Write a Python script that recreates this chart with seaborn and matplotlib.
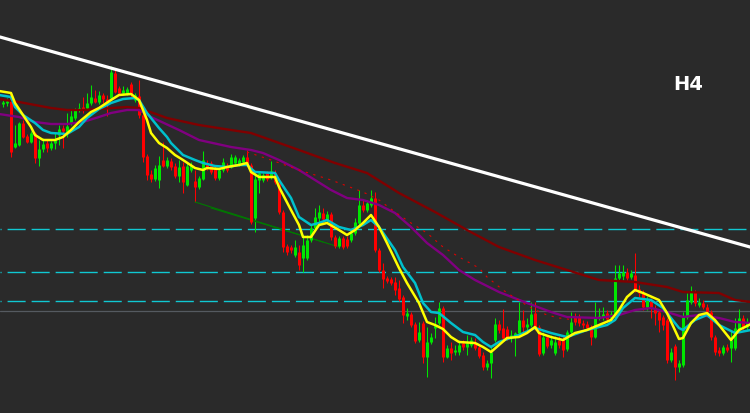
import numpy as np
import pandas as pd
import matplotlib
matplotlib.use("Agg")
import matplotlib.pyplot as plt
import seaborn as sns

# ---------------- data (price in chart points) ----------------
opens = [396, 397, 406, 353, 355, 377, 364, 358, 367, 342, 351, 357, 352, 357, 365, 372, 368, 377, 382, 391,
         393, 392, 397, 402, 398, 405, 401, 402, 427, 412, 407, 407, 416, 400, 404, 385, 344, 326, 321, 320,
         340, 334, 339, 334, 324, 334, 315, 330, 319, 313, 321, 337, 337, 332, 322, 330, 334, 333, 337, 336,
         338, 343, 335, 282, 320, 320, 327, 323, 327, 318, 288, 254, 253, 245, 248, 242, 242, 260, 272, 282,
         287, 280, 286, 263, 254, 262, 261, 260, 267, 277, 295, 290, 295, 302, 250, 230, 222, 221, 218, 212,
         203, 184, 186, 176, 160, 177, 143, 158, 172, 177, 192, 143, 152, 148, 148, 157, 153, 155, 157, 153,
         145, 133, 137, 160, 176, 172, 171, 162, 163, 167, 180, 173, 175, 187, 173, 147, 163, 155, 147, 160,
         161, 151, 168, 184, 183, 177, 176, 171, 163, 182, 183, 187, 182, 183, 222, 224, 228, 223, 225, 211,
         207, 193, 199, 192, 188, 183, 180, 140, 154, 133, 135, 183, 198, 208, 195, 197, 193, 188, 163, 150,
         147, 153, 152, 152, 170, 182, 173]
highs = [400, 402, 407, 375, 378, 380, 366, 369, 368, 360, 362, 360, 359, 367, 375, 375, 387, 390, 392, 397,
         403, 407, 415, 410, 409, 407, 405, 434, 430, 414, 414, 413, 418, 407, 420, 387, 346, 330, 335, 344,
         358, 343, 342, 337, 340, 338, 337, 338, 330, 324, 349, 340, 339, 335, 332, 342, 337, 346, 345, 342,
         345, 350, 337, 328, 329, 327, 329, 339, 330, 320, 290, 256, 255, 260, 255, 265, 265, 275, 292, 295,
         292, 289, 288, 265, 264, 264, 264, 270, 282, 310, 300, 300, 310, 308, 252, 237, 224, 223, 223, 220,
         205, 192, 188, 178, 178, 179, 173, 167, 183, 198, 194, 155, 158, 155, 160, 160, 165, 163, 162, 155,
         148, 140, 155, 182, 180, 191, 174, 170, 168, 198, 190, 182, 198, 198, 175, 168, 165, 165, 164, 164,
         165, 170, 188, 187, 186, 180, 179, 175, 198, 192, 193, 190, 189, 235, 235, 235, 232, 230, 247, 215,
         210, 204, 202, 195, 190, 185, 182, 152, 156, 140, 188, 207, 214, 210, 202, 200, 196, 190, 165, 153,
         155, 156, 170, 182, 191, 185, 182]
lows = [393, 394, 343, 352, 354, 362, 357, 357, 337, 334, 348, 348, 350, 351, 355, 352, 363, 375, 380, 388,
        387, 391, 395, 397, 396, 397, 384, 401, 407, 405, 405, 405, 403, 398, 382, 338, 320, 318, 319, 312,
        333, 332, 330, 322, 318, 307, 314, 328, 298, 311, 320, 330, 326, 320, 320, 328, 328, 332, 335, 334,
        337, 335, 276, 268, 307, 318, 319, 321, 316, 286, 248, 245, 247, 243, 230, 228, 240, 258, 270, 275,
        278, 278, 260, 252, 252, 251, 252, 258, 265, 275, 288, 288, 293, 248, 228, 212, 217, 215, 205, 199,
        177, 180, 173, 157, 158, 137, 123, 156, 162, 175, 138, 142, 140, 145, 145, 150, 145, 153, 150, 142,
        130, 130, 122, 158, 167, 160, 160, 158, 144, 165, 165, 170, 173, 170, 144, 145, 152, 152, 145, 152,
        143, 149, 166, 175, 174, 172, 170, 155, 162, 180, 180, 179, 180, 182, 219, 220, 220, 221, 208, 203,
        190, 190, 182, 175, 168, 170, 137, 138, 120, 128, 133, 181, 196, 194, 193, 191, 186, 160, 145, 144,
        145, 148, 138, 150, 168, 170, 170]
closes = [398, 399, 348, 357, 377, 363, 358, 367, 342, 351, 356, 352, 357, 360, 371, 369, 374, 384, 390, 392,
          390, 397, 403, 398, 405, 401, 397, 428, 408, 407, 410, 411, 406, 405, 385, 343, 325, 321, 332, 335,
          334, 340, 333, 324, 333, 318, 334, 335, 313, 322, 340, 333, 328, 322, 330, 338, 330, 343, 343, 340,
          343, 337, 278, 321, 327, 325, 321, 329, 318, 288, 253, 248, 250, 253, 235, 255, 260, 272, 283, 288,
          281, 286, 263, 254, 262, 253, 254, 267, 278, 295, 290, 297, 302, 250, 230, 221, 219, 217, 210, 201,
          185, 187, 175, 159, 168, 143, 158, 163, 175, 192, 143, 152, 147, 150, 155, 153, 157, 160, 152, 144,
          133, 137, 148, 176, 170, 162, 163, 165, 167, 180, 173, 176, 186, 172, 146, 163, 154, 160, 158, 155,
          150, 168, 178, 178, 177, 175, 172, 163, 183, 184, 186, 181, 186, 222, 227, 228, 222, 227, 210, 207,
          193, 200, 193, 187, 180, 175, 140, 148, 133, 137, 183, 200, 208, 197, 198, 193, 188, 163, 148, 147,
          153, 150, 160, 172, 182, 173, 178]

# moving-average style overlays: (bar, price)
fast_bar = [-1, 2, 3, 5, 7, 8, 10, 13, 15, 17, 19, 22, 24, 27, 29, 32, 34, 36, 37, 39, 41, 43, 45, 48, 50, 51,
            54, 56, 59, 61, 62, 64, 68, 69, 72, 74, 75, 77, 79, 81, 84, 86, 88, 90, 92, 94, 96, 99, 101, 104,
            106, 108, 110, 112, 114, 118, 120, 122, 124, 126, 129, 131, 133, 134, 137, 140, 143, 146, 149, 152,
            154, 156, 158, 160, 164, 166, 169, 170, 172, 174, 176, 178, 181, 182, 184, 187]
fast_val = [409, 407, 397, 385, 373, 365, 360, 360, 363, 370, 378, 388, 392, 400, 405, 406, 400, 380, 367, 357,
            352, 345, 340, 332, 330, 332, 331, 333, 335, 337, 328, 323, 323, 313, 290, 275, 263, 263, 275, 277,
            270, 265, 270, 277, 285, 273, 257, 232, 217, 197, 178, 175, 171, 163, 158, 157, 153, 148, 155, 162,
            163, 167, 173, 167, 163, 160, 167, 170, 175, 180, 190, 203, 210, 207, 200, 187, 161, 162, 177, 185,
            187, 180, 165, 160, 170, 176]
mid_bar = [-1, 2, 3, 5, 8, 10, 12, 16, 19, 21, 24, 27, 30, 33, 34, 36, 37, 39, 41, 42, 45, 48, 50, 53, 56, 59,
           61, 63, 68, 69, 72, 74, 77, 79, 81, 84, 87, 90, 92, 94, 98, 100, 103, 105, 107, 109, 112, 115, 118,
           120, 122, 124, 129, 133, 137, 141, 146, 151, 153, 155, 158, 162, 165, 169, 170, 173, 176, 179, 183, 187]
mid_val = [405, 403, 393, 385, 377, 370, 367, 366, 373, 382, 391, 397, 401, 402, 400, 387, 382, 372, 363, 357,
           345, 340, 337, 334, 333, 335, 335, 328, 327, 320, 302, 283, 275, 277, 280, 273, 270, 275, 280, 273,
           250, 233, 217, 197, 188, 187, 177, 168, 165, 158, 153, 158, 165, 172, 167, 163, 170, 175, 180, 192,
           202, 200, 192, 172, 170, 180, 185, 175, 167, 170]
slow_bar = [-1, 4, 8, 12, 16, 20, 24, 27, 31, 34, 37, 44, 49, 57, 62, 65, 69, 74, 78, 82, 86, 90, 94, 98, 102,
            106, 110, 114, 118, 122, 124, 131, 137, 141, 149, 154, 158, 162, 166, 170, 174, 179, 183, 187]
slow_val = [386, 383, 378, 376, 376, 378, 383, 387, 390, 390, 383, 370, 360, 353, 350, 347, 340, 330, 320, 310,
            302, 300, 295, 287, 273, 257, 245, 230, 220, 212, 208, 197, 188, 183, 182, 185, 190, 192, 188, 183,
            185, 182, 178, 177]
long_bar = [-1, 4, 8, 12, 16, 20, 24, 31, 34, 41, 49, 57, 62, 74, 83, 91, 99, 108, 116, 124, 133, 141, 149, 158,
            166, 170, 179, 183, 187]
long_val = [401, 398, 395, 392, 390, 390, 391, 393, 392, 382, 375, 370, 367, 350, 337, 327, 307, 288, 270, 253,
            240, 230, 220, 218, 213, 208, 207, 200, 198]
dot_bar = [61, 67, 74, 82, 90, 94, 98, 102, 106, 110, 114, 119, 121, 125, 128, 132, 136, 139, 143]
dot_val = [348, 340, 330, 320, 308, 300, 288, 277, 267, 253, 243, 232, 223, 210, 202, 192, 185, 182, 180]

trend_bar = [-0.75, 186.75]
trend_val = [463, 253]
div_bars_a = [48, 84]
div_vals_a = [298, 253]
div_bars_b = [52, 80]
div_vals_b = [292, 258]
levels_cyan = [271, 228, 199]
level_gray = 189
timeframe = "H4"

# ---------------- figure ----------------
sns.set_theme(style="dark")
BG = "#2a2a2a"
fig = plt.figure(figsize=(7.5, 4.13), dpi=100, facecolor=BG)
ax = fig.add_axes([0, 0, 1, 1])
ax.set_facecolor(BG)

n = len(closes)
bars = np.arange(n)
o = np.array(opens); c = np.array(closes); h = np.array(highs); l = np.array(lows)
up = c >= o
GREEN = "#00e600"
RED = "#ff0000"
cols = np.where(up, GREEN, RED)

# horizontal levels
for lv in levels_cyan:
    ax.axhline(lv, color="#10c8d2", lw=1.0, linestyle=(12.2, (13, 4.3)), zorder=1)
ax.axhline(level_gray, color="#555a60", lw=0.9, zorder=1)

# candles: wicks 1 px, bodies 3 px
ax.vlines(bars, l, h, colors=cols, lw=0.75, zorder=2)
body_low = np.minimum(o, c)
body_high = np.maximum(np.maximum(o, c), body_low + 1.0)
ax.vlines(bars, body_low, body_high, colors=cols, lw=2.16, zorder=3, capstyle="butt")

# divergence lines
ax.plot(div_bars_a, div_vals_a, color="#007a00", lw=0.8, zorder=2)
ax.plot(div_bars_b, div_vals_b, color="#007a00", lw=0.8, zorder=2)

def line(xs, ys, color, lw, **kw):
    df = pd.DataFrame({"bar": xs, "price": ys})
    sns.lineplot(data=df, x="bar", y="price", color=color, lw=lw, sort=False,
                 estimator=None, ax=ax, legend=False, **kw)

line(long_bar, long_val, "#800000", 1.7, zorder=4)
line(slow_bar, slow_val, "#800080", 1.7, zorder=4)
line(dot_bar, dot_val, "#e00000", 0.8, zorder=4, linestyle=(0, (2, 5)))
line(mid_bar, mid_val, "#00c0cc", 1.8, zorder=5)
line(fast_bar, fast_val, "#ffff00", 1.8, zorder=6)
line(trend_bar, trend_val, "#ffffff", 2.3, zorder=7)

ax.text(688 / 750, 1 - 85 / 413, timeframe, transform=ax.transAxes, color="white",
        fontsize=14, fontweight="bold", ha="center", va="center", family="DejaVu Sans")

ax.set_xlim(-0.75, 186.75)
ax.set_ylim(87, 500)
ax.set_xlabel(""); ax.set_ylabel("")
ax.set_xticks([]); ax.set_yticks([])
for s in ax.spines.values():
    s.set_visible(False)
ax.grid(False)

fig.savefig("out.png", dpi=100, facecolor=BG)
